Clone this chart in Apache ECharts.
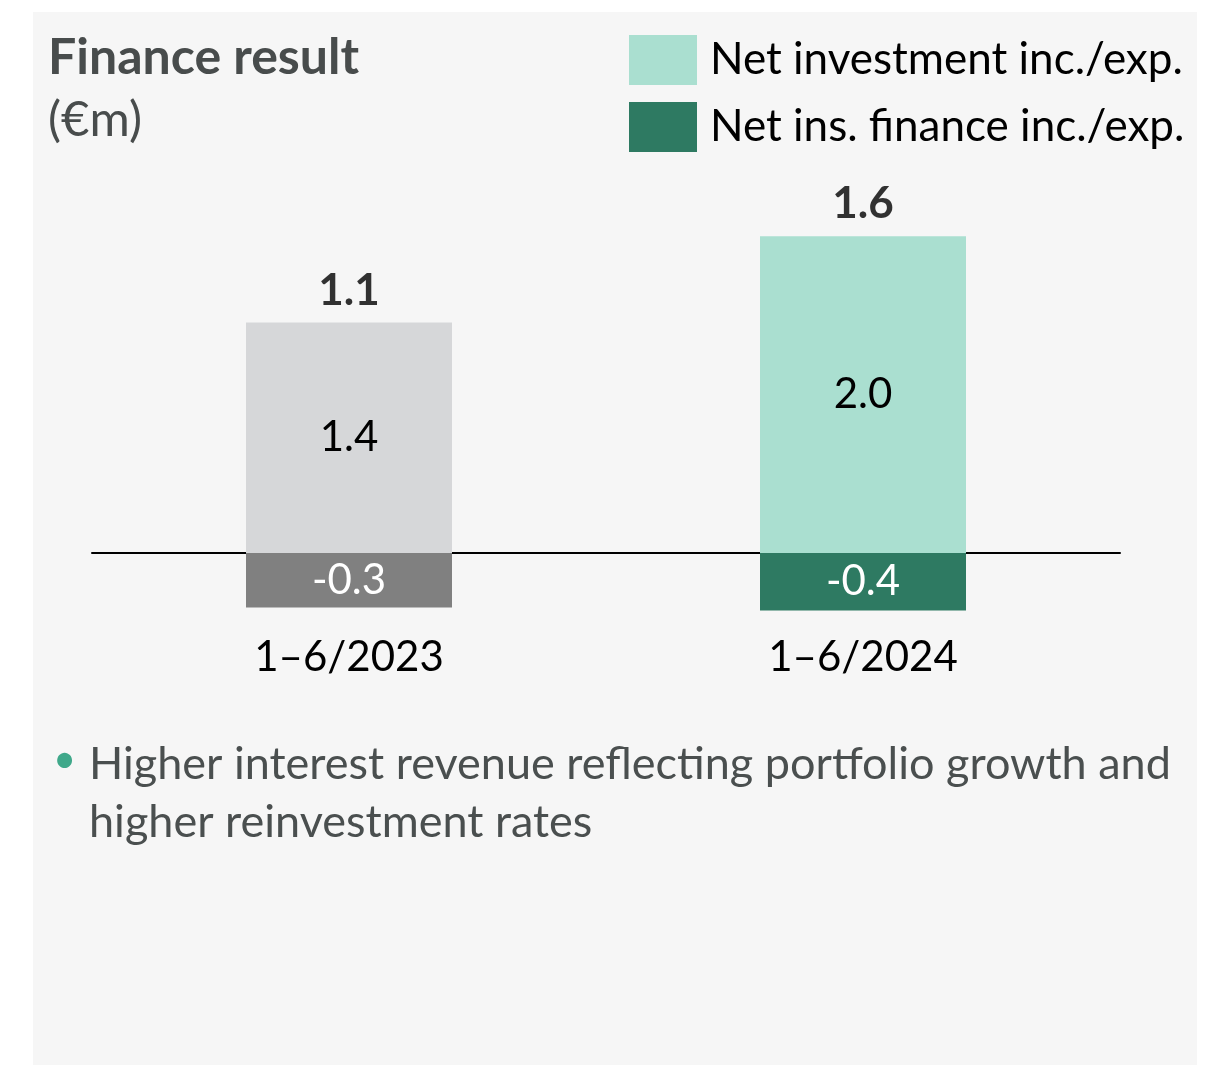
<!DOCTYPE html>
<html>
<head>
<meta charset="utf-8">
<script src="https://cdn.jsdelivr.net/npm/echarts@6/dist/echarts.min.js"></script>
<style>
  html, body { margin: 0; padding: 0; background: #fff; }
  #panel { position: absolute; left: 33px; top: 12px; width: 1164px; height: 1053px; background: #f6f6f6; }
  #chart { position: absolute; left: 0; top: 0; width: 1225px; height: 1065px; }
</style>
</head>
<body>
<div id="panel"></div>
<div id="chart"></div>
<script>
const echarts = window.echarts

// data
const categories = ['1–6/2023', '1–6/2024']
const netInvestment = [1.44, 1.98]
const netInsFinance = [-0.34, -0.36]
const totals = [1.1, 1.6]
const seriesNames = ['Net investment inc./exp.', 'Net ins. finance inc./exp.']
const bulletLines = ['Higher interest revenue reflecting portfolio growth and', 'higher reinvestment rates']

const FONT = 'Lato'
const prevColors = ['#d6d7d9', '#808080'] // 2023 bars shown in grey

const chart = echarts.init(document.getElementById('chart'), null, { renderer: 'canvas' })

const option = {
  backgroundColor: 'transparent',
  animation: false,
  title: {
    text: 'Finance result',
    subtext: '(€m)',
    left: 43,
    top: 28,
    itemGap: 13,
    textStyle: { fontFamily: FONT, fontSize: 50, fontWeight: 'bold', color: '#484c4c' },
    subtextStyle: { fontFamily: FONT, fontSize: 49, color: '#484c4c' }
  },
  legend: {
    data: seriesNames,
    orient: 'vertical',
    left: 629,
    top: 35,
    padding: 0,
    itemWidth: 68,
    itemHeight: 50,
    itemGap: 17,
    icon: 'rect',
    selectedMode: false,
    textStyle: { fontFamily: FONT, fontSize: 44, color: '#000', padding: [11, 0, 0, 8] }
  },
  grid: { left: 92, right: 105, top: 153, bottom: 432 },
  xAxis: {
    type: 'category',
    data: categories,
    axisLine: { onZero: true, lineStyle: { color: '#000', width: 2 } },
    axisTick: { show: false },
    axisLabel: { margin: 3, fontFamily: FONT, fontSize: 42, color: '#000' }
  },
  yAxis: {
    type: 'value',
    min: -0.5,
    max: 2.5,
    show: false,
    splitLine: { show: false }
  },
  series: [
    {
      name: seriesNames[0],
      type: 'bar',
      stack: 'total',
      barWidth: 206,
      itemStyle: { color: '#aadfd0' },
      label: {
        show: true,
        position: 'inside',
        fontFamily: FONT,
        fontSize: 42,
        color: '#000',
        formatter: p => p.value.toFixed(1)
      },
      data: netInvestment.map((v, i) => i === 0 ? { value: v, itemStyle: { color: prevColors[0] } } : v)
    },
    {
      name: seriesNames[1],
      type: 'bar',
      stack: 'total',
      barWidth: 206,
      itemStyle: { color: '#2e7a62' },
      label: {
        show: true,
        position: 'inside',
        fontFamily: FONT,
        fontSize: 42,
        color: '#fff',
        formatter: p => p.value.toFixed(1)
      },
      data: netInsFinance.map((v, i) => i === 0 ? { value: v, itemStyle: { color: prevColors[1] } } : v)
    },
    {
      // totals above the bars
      type: 'scatter',
      symbolSize: 0,
      silent: true,
      label: {
        show: true,
        position: 'top',
        distance: 10,
        fontFamily: FONT,
        fontSize: 44,
        fontWeight: 'bold',
        color: '#000',
        formatter: p => totals[p.dataIndex].toFixed(1)
      },
      data: netInvestment
    }
  ],
  graphic: [
    {
      type: 'text',
      left: 53,
      top: 740,
      style: { text: '•', fontFamily: FONT, fontSize: 40, fill: '#3fa88a' }
    },
    {
      type: 'text',
      left: 89,
      top: 735,
      style: {
        text: bulletLines.join('\n'),
        fontFamily: FONT,
        fontSize: 45,
        lineHeight: 58,
        fill: '#4a4f4f'
      }
    }
  ]
}

chart.setOption(option)
</script>
</body>
</html>
